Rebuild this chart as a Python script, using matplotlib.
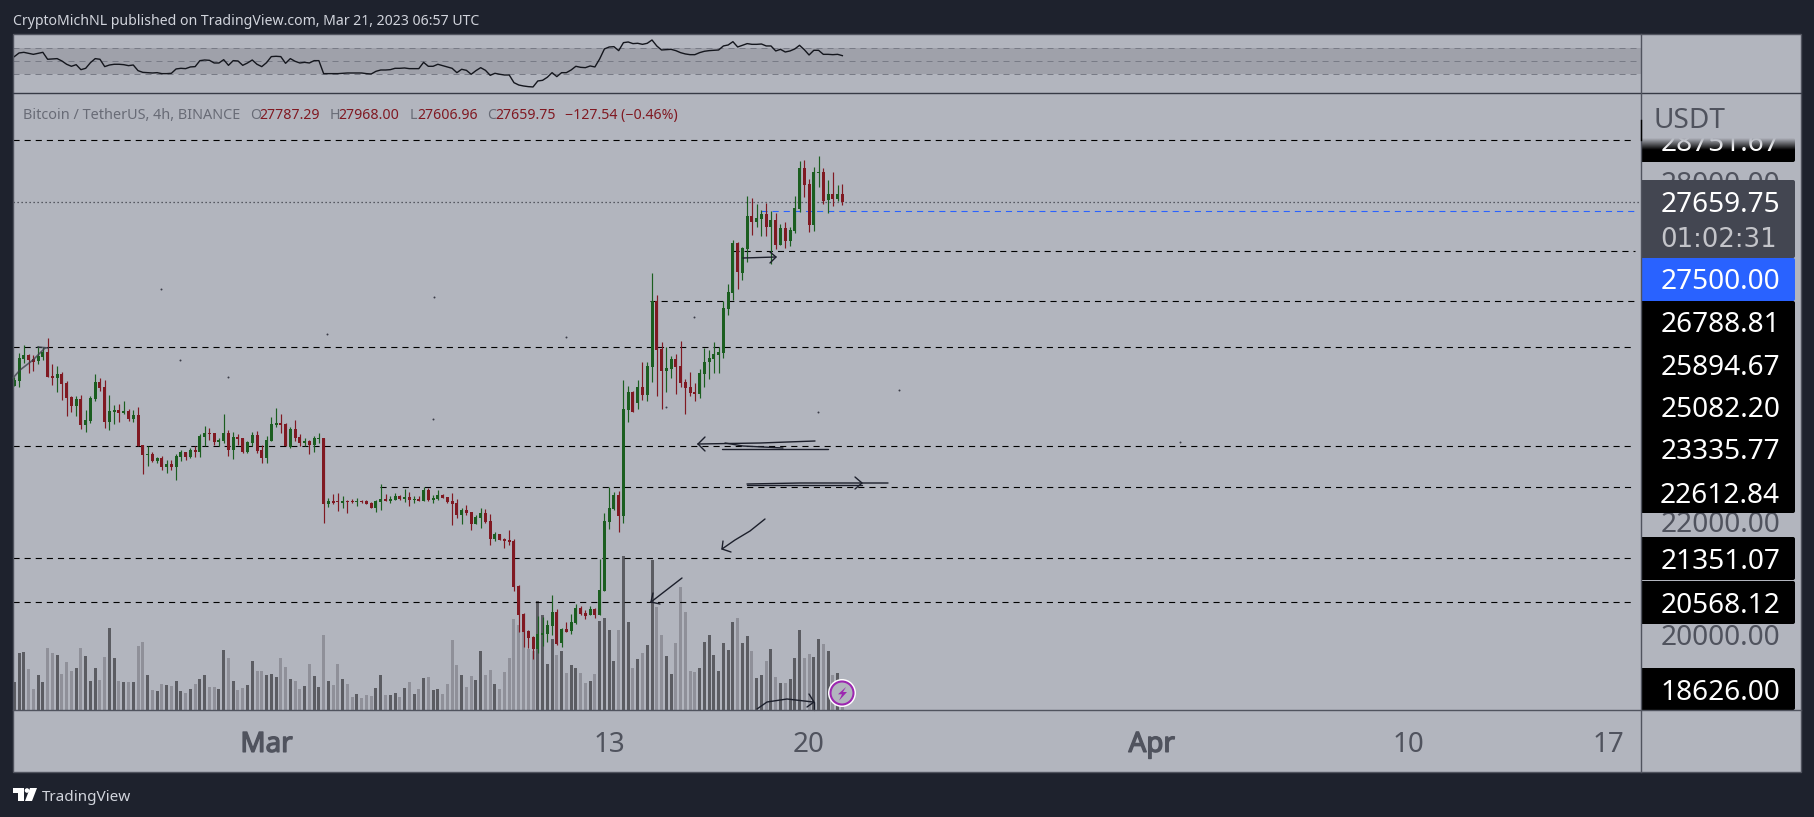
import matplotlib
matplotlib.use("Agg")
import matplotlib.pyplot as plt
import matplotlib.patheffects as pe
import numpy as np
from matplotlib.patches import Rectangle, FancyBboxPatch, Circle, Polygon

W, H = 1814, 817
DPI = 100

BG = "#1e222d"
PANE = "#b2b5be"
BAND = "#9fa1aa"
EDGE = "#50535e"
UP = "#1b5e20"
DOWN = "#801922"
VOL_UP = "#5b5c62"
VOL_DOWN = "#8f9099"
INK = "#1c1f2b"

plt.rcParams["font.family"] = ["Noto Sans", "DejaVu Sans"]

# 4h BTC/USDT candles
opens = [
    24397, 24485, 24875, 24945, 24875, 24839, 24910, 24999, 24574, 24538,
    24609, 24450, 24202, 24043, 24167, 23707, 23777, 24167, 24468, 24379,
    23760, 23937, 23972, 23919, 23954, 23813, 23884, 23353, 23176, 23193,
    23069, 23122, 22963, 23016, 22963, 23140, 23229, 23140, 23264, 23229,
    23494, 23565, 23565, 23406, 23423, 23565, 23264, 23494, 23476, 23229,
    23388, 23529, 23264, 23122, 23423, 23707, 23742, 23724, 23317, 23636,
    23494, 23388, 23423, 23353, 23459, 23476, 22308, 22361, 22344, 22326,
    22361, 22361, 22350, 22361, 22361, 22326, 22237, 22344, 22397, 22361,
    22379, 22450, 22397, 22432, 22379, 22397, 22361, 22556, 22379, 22397,
    22468, 22432, 22361, 22326, 22113, 22202, 22167, 21954, 22060, 22149,
    22007, 21689, 21777, 21689, 21671, 21653, 20857, 20361, 20060, 19954,
    19742, 19990, 20007, 20149, 20397, 19848, 20096, 20060, 20202, 20467,
    20379, 20343, 20450, 20343, 20768, 21990, 22220, 22467, 22096, 23972,
    24291, 24096, 24379, 24238, 24733, 25901, 25052, 24662, 24698, 24875,
    24751, 24468, 24379, 24291, 24255, 24609, 24822, 24875, 24945, 24981,
    25760, 26043, 26928, 26397, 26822, 27406, 27300, 27353, 27441, 27211,
    27335, 26892, 27193, 26963, 27140, 27530, 28255, 27972, 27247, 28173,
    28185, 27689, 27795, 27707, 27787,
]
highs = [
    24550, 24975, 25123, 24963, 24945, 25105, 25093, 25246, 24786, 24751,
    24645, 24485, 24220, 24220, 24238, 23972, 24220, 24609, 24538, 24503,
    24238, 24061, 24078, 24131, 23990, 23972, 24025, 23353, 23335, 23229,
    23140, 23158, 23087, 23087, 23193, 23264, 23229, 23299, 23335, 23547,
    23689, 23653, 23565, 23476, 23901, 23618, 23583, 23547, 23476, 23423,
    23583, 23600, 23353, 23512, 23848, 24007, 23901, 23742, 23671, 23795,
    23541, 23476, 23441, 23512, 23565, 23476, 22414, 22485, 22503, 22450,
    22379, 22397, 22414, 22379, 22379, 22344, 22379, 22662, 22485, 22450,
    22503, 22468, 22574, 22521, 22450, 22450, 22609, 22591, 22468, 22556,
    22485, 22432, 22503, 22397, 22237, 22291, 22167, 22113, 22237, 22220,
    22131, 21813, 21777, 21706, 21848, 21689, 20875, 20379, 20078, 19972,
    20326, 20308, 20255, 20697, 20450, 20113, 20220, 20361, 20538, 20503,
    20432, 20503, 20467, 21335, 22149, 22609, 22521, 22538, 24503, 24397,
    24308, 24503, 24822, 24822, 26397, 26008, 25176, 25087, 24928, 24963,
    25193, 24521, 24645, 24450, 24698, 25069, 25034, 25176, 25087, 25901,
    26202, 26981, 26946, 26857, 27760, 27724, 27618, 27512, 27636, 27494,
    27459, 27264, 27300, 27211, 27760, 28379, 28397, 28061, 28273, 28468,
    28255, 28043, 28185, 27954, 27968,
]
lows = [
    24397, 24379, 24798, 24627, 24662, 24786, 24857, 24556, 24415, 24291,
    24149, 23866, 23937, 23866, 23636, 23583, 23742, 24131, 24308, 23653,
    23618, 23724, 23760, 23901, 23777, 23760, 23335, 22839, 22981, 23052,
    23034, 22910, 22857, 22910, 22733, 23069, 23087, 23122, 23140, 23140,
    23335, 23441, 23353, 23335, 23388, 23158, 23105, 23353, 23211, 23211,
    23335, 23211, 23034, 23034, 23423, 23671, 23565, 23335, 23299, 23423,
    23335, 23335, 23193, 23229, 23388, 21972, 22255, 22308, 22184, 22237,
    22149, 22326, 22273, 22326, 22308, 22237, 22167, 22202, 22361, 22326,
    22379, 22379, 22344, 22273, 22326, 22361, 22361, 22361, 22326, 22379,
    22414, 22326, 21937, 22060, 21954, 22113, 21848, 21954, 21883, 21972,
    21582, 21653, 21671, 21529, 21582, 20768, 20043, 19777, 19759, 19565,
    19671, 19795, 19866, 19990, 19813, 19777, 20043, 20007, 20184, 20343,
    20273, 20343, 20290, 20343, 20768, 21866, 22202, 21813, 21972, 23760,
    23937, 23990, 24149, 24131, 24468, 24220, 23990, 24291, 24538, 24255,
    24379, 23901, 24220, 24131, 24184, 24379, 24521, 24627, 24627, 24892,
    25654, 25919, 26114, 26273, 26592, 27069, 27211, 27052, 27052, 26556,
    26822, 26892, 26839, 26875, 27105, 27477, 27742, 27123, 27140, 27919,
    27618, 27459, 27583, 27671, 27607,
]
closes = [
    24503, 24892, 24945, 24857, 24822, 24928, 25005, 24556, 24538, 24609,
    24432, 24184, 24043, 24167, 23707, 23795, 24184, 24468, 24361, 23760,
    23954, 23972, 23919, 23954, 23813, 23884, 23335, 23176, 23193, 23069,
    23122, 22963, 23016, 22963, 23158, 23229, 23140, 23264, 23229, 23512,
    23565, 23547, 23406, 23441, 23565, 23264, 23494, 23459, 23229, 23406,
    23529, 23246, 23122, 23441, 23724, 23742, 23707, 23335, 23636, 23476,
    23388, 23423, 23353, 23476, 23476, 22308, 22361, 22326, 22338, 22361,
    22350, 22344, 22361, 22344, 22308, 22237, 22361, 22397, 22361, 22397,
    22450, 22397, 22432, 22379, 22397, 22361, 22556, 22379, 22414, 22468,
    22414, 22344, 22308, 22113, 22202, 22149, 21954, 22078, 22149, 21990,
    21689, 21777, 21671, 21653, 21636, 20839, 20343, 20043, 19936, 19742,
    20007, 20025, 20167, 20397, 19830, 20096, 20043, 20220, 20467, 20361,
    20326, 20450, 20343, 20786, 22007, 22237, 22467, 22096, 23990, 24291,
    23937, 24379, 24238, 24751, 25901, 25034, 24662, 24715, 24875, 24733,
    24450, 24361, 24273, 24255, 24627, 24822, 24892, 24963, 24999, 25777,
    26061, 26928, 26415, 26839, 27406, 27300, 27370, 27441, 27211, 27335,
    26892, 27193, 26963, 27158, 27547, 28255, 27954, 27247, 28185, 28185,
    27671, 27795, 27707, 27795, 27660,
]

# volume, arbitrary units
volumes = [
    84, 171, 174, 123, 63, 105, 84, 186, 171, 165,
    108, 144, 117, 126, 186, 162, 87, 126, 90, 159,
    246, 156, 87, 84, 84, 84, 192, 204, 105, 60,
    57, 78, 75, 72, 87, 57, 51, 63, 78, 93,
    105, 69, 69, 63, 180, 156, 87, 60, 66, 75,
    147, 117, 117, 105, 108, 99, 156, 129, 93, 87,
    63, 72, 138, 102, 69, 225, 87, 75, 138, 93,
    78, 39, 48, 36, 45, 42, 66, 105, 45, 45,
    51, 39, 66, 84, 48, 63, 96, 99, 60, 63,
    48, 78, 210, 135, 105, 69, 102, 90, 177, 105,
    120, 78, 63, 114, 156, 273, 255, 240, 183, 177,
    327, 285, 138, 213, 165, 177, 111, 135, 126, 111,
    81, 87, 108, 267, 276, 240, 147, 240, 462, 264,
    126, 153, 171, 195, 450, 309, 225, 162, 108, 201,
    369, 294, 117, 114, 126, 204, 225, 165, 117, 201,
    180, 264, 276, 201, 222, 177, 96, 105, 147, 183,
    99, 81, 81, 93, 156, 240, 156, 168, 159, 213,
    198, 177, 105, 111, 60,
]

rsi = [
    57.2, 62.8, 63.8, 62.3, 60.7, 62.3, 63.8, 53.1, 53.6, 54.1,
    50.5, 45.4, 42.3, 44.8, 37.1, 39.2, 47.9, 54.1, 53.1, 41.8,
    44.3, 45.4, 45.4, 44.8, 43.3, 44.3, 35.6, 33.0, 32.5, 32.0,
    32.5, 31.0, 31.0, 31.5, 38.2, 39.2, 38.7, 41.3, 41.8, 51.0,
    52.0, 51.5, 47.4, 47.4, 52.5, 43.8, 51.0, 50.5, 43.8, 47.4,
    52.0, 45.4, 41.8, 47.9, 57.2, 57.7, 57.2, 46.9, 54.1, 50.0,
    47.4, 48.4, 47.4, 51.0, 51.0, 31.0, 31.0, 31.0, 31.0, 31.5,
    32.0, 32.0, 32.0, 32.0, 31.0, 30.5, 34.6, 36.6, 36.6, 37.1,
    39.2, 39.2, 39.7, 38.7, 38.7, 38.7, 48.4, 42.3, 42.3, 45.4,
    43.3, 41.3, 39.2, 32.5, 37.7, 36.1, 30.0, 35.6, 40.2, 36.1,
    28.4, 31.5, 30.0, 28.9, 28.9, 17.1, 13.5, 12.0, 11.0, 10.5,
    19.7, 20.7, 25.4, 32.5, 26.4, 32.5, 32.5, 36.6, 42.3, 40.7,
    40.2, 42.8, 41.3, 53.6, 69.0, 72.0, 72.5, 66.4, 78.7, 79.7,
    77.2, 77.7, 76.1, 77.7, 82.8, 73.6, 67.4, 67.9, 68.4, 66.4,
    63.3, 61.3, 60.2, 60.2, 63.3, 65.4, 66.4, 66.9, 67.4, 73.6,
    75.1, 80.2, 72.0, 74.6, 77.2, 76.1, 76.1, 76.6, 73.6, 73.6,
    65.9, 68.4, 64.3, 65.9, 69.0, 74.6, 67.9, 59.7, 66.9, 66.9,
    60.7, 60.7, 60.2, 60.7, 58.7,
]

rsi_levels = [70, 50, 30]

# horizontal levels drawn on the chart and the bar each one starts from
levels = [28751.67, 26788.81, 25894.67, 25082.20, 23335.77, 22612.84, 21351.07, 20568.12]
level_start = [0, 151, 133.6, 0, 0, 76.9, 0, 0]
last_price = 27659.75
alert_price = 27500.00
alert_start = 157

tick_bars = [53, 125, 167, 239, 293, 335]
tick_labels = ["Mar", "13", "20", "Apr", "10", "17"]
bold_ticks = ["Mar", "Apr"]

axis_prices = ["28000.00", "22000.00", "20000.00"]

# freehand drawings, figure pixels
sketches = [
    [(815, 441), (760, 443), (698, 444)],
    [(698, 444), (705, 437)],
    [(698, 444), (705, 451)],
    [(725, 443), (743, 446), (783, 448)],
    [(722, 449), (828, 449)],
    [(747, 484), (800, 483), (888, 483)],
    [(747, 485), (862, 485)],
    [(855, 477), (862, 483), (855, 489)],
    [(765, 519), (750, 531), (735, 540), (722, 549)],
    [(723, 541), (722, 549), (731, 552)],
    [(682, 578), (651, 602)],
    [(653, 593), (651, 602), (660, 604)],
    [(757, 709), (767, 702), (787, 699), (813, 702)],
    [(809, 694), (814, 702), (807, 707)],
    [(814, 702), (814, 710)],
    [(743, 258), (776, 257)],
    [(770, 252), (776, 257), (770, 263)],
]
faint_sketch = [[(13, 378), (20, 370), (33, 360), (45, 348)], [(38, 347), (48, 348)]]
specks = [(161, 289), (327, 334), (434, 297), (566, 337), (228, 377), (180, 360),
          (433, 419), (818, 412), (899, 390), (1180, 442), (694, 317), (666, 407)]


def fig_box(x0, y0, x1, y1):
    return [x0 / W, 1 - y1 / H, (x1 - x0) / W, (y1 - y0) / H]


fig = plt.figure(figsize=(W / DPI, H / DPI), dpi=DPI, facecolor=BG)

PANE_L, PANE_R, PANE_T, RSI_B, PRICE_B, TIME_B, SCALE_R = 13, 1641, 34, 93, 710, 772, 1801
BAR0, BAR_STEP = 14.3, 4.759
x_lim = ((PANE_L - BAR0) / BAR_STEP, (PANE_R - BAR0) / BAR_STEP)
bars = np.arange(len(closes))

# one pale sheet under all the panes, time axis and price scale included
sheet = fig.add_axes(fig_box(PANE_L, PANE_T, SCALE_R, TIME_B), facecolor=PANE, zorder=-1)
sheet.set_xticks([])
sheet.set_yticks([])
for s in sheet.spines.values():
    s.set_visible(False)

# RSI pane
rsi_ax = fig.add_axes(fig_box(PANE_L, PANE_T, PANE_R, RSI_B))
rsi_ax.patch.set_alpha(0)
rsi_ax.set_xlim(x_lim)
rsi_ax.set_ylim(1.2, 92)
rsi_ax.axhspan(rsi_levels[2], rsi_levels[0], color=BAND, lw=0, zorder=1)
for lvl in rsi_levels:
    rsi_ax.axhline(lvl, color="#787b86", lw=0.72, dashes=(6, 5), zorder=2)
rsi_ax.plot(bars, rsi, color="#14161d", lw=1.0, zorder=3)
rsi_ax.set_xticks([])
rsi_ax.set_yticks([])
for s in rsi_ax.spines.values():
    s.set_visible(False)

# volume sits behind the candles in the price pane
vol_ax = fig.add_axes(fig_box(PANE_L, RSI_B, PANE_R, PRICE_B))
vol_ax.set_xlim(x_lim)
vol_ax.set_ylim(0, (PRICE_B - RSI_B) * 3)
vol_colors = [VOL_UP if c >= o else VOL_DOWN for o, c in zip(opens, closes)]
vol_ax.bar(bars, volumes, width=0.63, color=vol_colors, lw=0)
vol_ax.axis("off")

ax = fig.add_axes(fig_box(PANE_L, RSI_B, PANE_R, PRICE_B))
ax.patch.set_alpha(0)
ax.set_xlim(x_lim)
usd_per_px = 1 / 0.0565
ax.set_ylim(25082.2 - (PRICE_B - 347.3) * usd_per_px, 25082.2 + (347.3 - RSI_B) * usd_per_px)

line_end = (1635 - BAR0) / BAR_STEP
for lvl, start in zip(levels, level_start):
    ax.plot([start if start else x_lim[0], line_end], [lvl, lvl], color="black", lw=0.8,
            dashes=(5.5, 4.5), zorder=2)
ax.axhline(last_price, color="#3a3c45", lw=0.9, dashes=(1, 2.2), zorder=2)
ax.plot([alert_start, line_end], [alert_price, alert_price], color="#2962ff", lw=0.8,
        dashes=(5.5, 4.5), zorder=2)

candle_colors = [UP if c >= o else DOWN for o, c in zip(opens, closes)]
ax.vlines(bars, lows, highs, colors=candle_colors, lw=0.85, zorder=3)
body_low = np.minimum(opens, closes)
body_h = np.maximum(np.abs(np.array(closes) - np.array(opens)), 18)
ax.bar(bars, body_h, bottom=body_low, width=0.63, color=candle_colors, lw=0, zorder=4)

ax.set_yticks([])
ax.set_xticks(tick_bars, tick_labels)
ax.tick_params(axis="x", length=0, pad=15, labelsize=20, labelcolor=EDGE)
# Noto here has no separate bold cut, so thicken the month names with a stroke
for lab in ax.get_xticklabels():
    if lab.get_text() in bold_ticks:
        lab.set_path_effects([pe.withStroke(linewidth=1.0, foreground=EDGE)])
for s in ax.spines.values():
    s.set_visible(False)

# everything below is laid out in figure pixels
ov = fig.add_axes([0, 0, 1, 1], zorder=10)
ov.patch.set_alpha(0)
ov.axis("off")

for pts in sketches:
    xs, ys = zip(*pts)
    ov.plot(xs, ys, color=INK, lw=1.0, zorder=5, solid_capstyle="round")
for pts in faint_sketch:
    xs, ys = zip(*pts)
    ov.plot(xs, ys, color="#3a3c47", lw=1.2, alpha=0.75, zorder=5)
sx, sy = zip(*specks)
ov.scatter(sx, sy, s=2, color="#3a3c47", lw=0, zorder=5)

# strategy icon on the last bars
ov.add_patch(Circle((842, 693), 14, facecolor="white", edgecolor="none", zorder=6))
ov.add_patch(Circle((842, 693), 11.5, facecolor=PANE, edgecolor="#9c27b0", lw=1.5, zorder=7))
ov.add_patch(Polygon([(846, 687), (838, 694.3), (842, 694.3), (839, 700.7), (847, 692), (843, 692)],
                     facecolor="#9c27b0", edgecolor="none", zorder=8))

# panel borders
ov.add_patch(Rectangle((PANE_L, PANE_T), SCALE_R - PANE_L, TIME_B - PANE_T, fill=False,
                       edgecolor=EDGE, lw=1.0, zorder=20))
ov.plot([PANE_L, SCALE_R], [RSI_B, RSI_B], color="#363a45", lw=1.0, zorder=20)
ov.plot([PANE_L, SCALE_R], [PRICE_B, PRICE_B], color=EDGE, lw=1.0, zorder=20)
ov.plot([PANE_R, PANE_R], [PANE_T, TIME_B], color=EDGE, lw=1.0, zorder=20)
ov.plot([PANE_R, PANE_R], [120, 140], color="black", lw=1.0, zorder=21)

# price scale
LABEL_PX = 28 * 72 / DPI
LABEL_R = 1780
ov.text(1654, 128, "USDT", fontsize=LABEL_PX, color=EDGE, ha="left", va="baseline", zorder=12)


def price_text(txt, cy, color="white", z=15):
    return ov.text(LABEL_R, cy + 10, txt, fontsize=LABEL_PX, color=color, ha="right",
                   va="baseline", zorder=z)


def label_box(y0, y1, color, z=14):
    ov.add_patch(FancyBboxPatch((PANE_R + 4, y0 + 2), 1795 - PANE_R - 6, y1 - y0 - 4,
                                boxstyle="round,pad=2,rounding_size=2", facecolor=color,
                                edgecolor="none", zorder=z))
    ov.add_patch(Rectangle((PANE_R, y0), 6, y1 - y0, facecolor=color, edgecolor="none", zorder=z))


for txt, cy in zip(axis_prices, [182, 522, 635]):
    price_text(txt, cy, color=EDGE, z=12)

# top label fades out under the USDT header
label_box(138, 162, "black")
t = price_text("28751.67", 141)
t.set_clip_on(True)
t.set_clip_path(Rectangle((PANE_R, 138), 160, 24, transform=ov.transData))
fade = np.zeros((32, 1, 4))
fade[:, :, :3] = matplotlib.colors.to_rgb(PANE)
fade[:, 0, 3] = np.linspace(1, 0, 32)
ov.imshow(fade, extent=(PANE_R, 1795, 150, 138), aspect="auto", zorder=16, interpolation="bilinear")
ov.set_xlim(0, W)
ov.set_ylim(H, 0)

label_box(180, 258, "#434651", z=14)
price_text("27659.75", 202)
ov.text(1660, 247, "01:02:31", fontsize=26 * 72 / DPI, family="DejaVu Sans", color="#c3c4c9",
        ha="left", va="baseline", zorder=15)
label_box(258, 301, "#2962ff", z=14)
price_text("27500.00", 279)
label_box(301, 513, "black", z=13)
for txt, cy in zip(["26788.81", "25894.67", "25082.20", "23335.77", "22612.84"],
                   [322, 365, 407, 449, 493]):
    price_text(txt, cy)
label_box(537, 580, "black")
price_text("21351.07", 559)
label_box(581, 624, "black")
price_text("20568.12", 603)
label_box(668, 710, "black")
price_text("18626.00", 690)

# header, legend, footer
ov.text(13, 25, "CryptoMichNL published on TradingView.com, Mar 21, 2023 06:57 UTC",
        fontsize=10.15, color="#d1d4dc", ha="left", va="baseline")
LEG_GREY = "#686b76"
leg_y = 119
ov.text(23, leg_y, "Bitcoin / TetherUS, 4h, BINANCE", fontsize=10.4, color=LEG_GREY, va="baseline")
leg_parts = [("O", 250.3, LEG_GREY), ("27787.29", 259.5, DOWN), ("H", 329.5, LEG_GREY),
             ("27968.00", 338.7, DOWN), ("L", 410, LEG_GREY), ("27606.96", 417, DOWN),
             ("C", 487, LEG_GREY), ("27659.75", 495, DOWN), ("\u2212127.54 (\u22120.46%)", 565.4, DOWN)]
for txt, x, col in leg_parts:
    ov.text(x, leg_y, txt, fontsize=10.2, color=col, va="baseline")

ov.add_patch(Polygon([(13, 788), (24, 788), (24, 801), (18, 801), (18, 793), (13, 793)],
                     facecolor="white", edgecolor="none"))
ov.add_patch(Circle((27, 790.5), 2.3, facecolor="white", edgecolor="none"))
ov.add_patch(Polygon([(30, 788), (37, 788), (32, 801), (25, 801)], facecolor="white", edgecolor="none"))
ov.text(42, 801, "TradingView", fontsize=11.0, color="#d1d4dc", ha="left", va="baseline")

fig.savefig("out.png", dpi=DPI, facecolor=BG)
